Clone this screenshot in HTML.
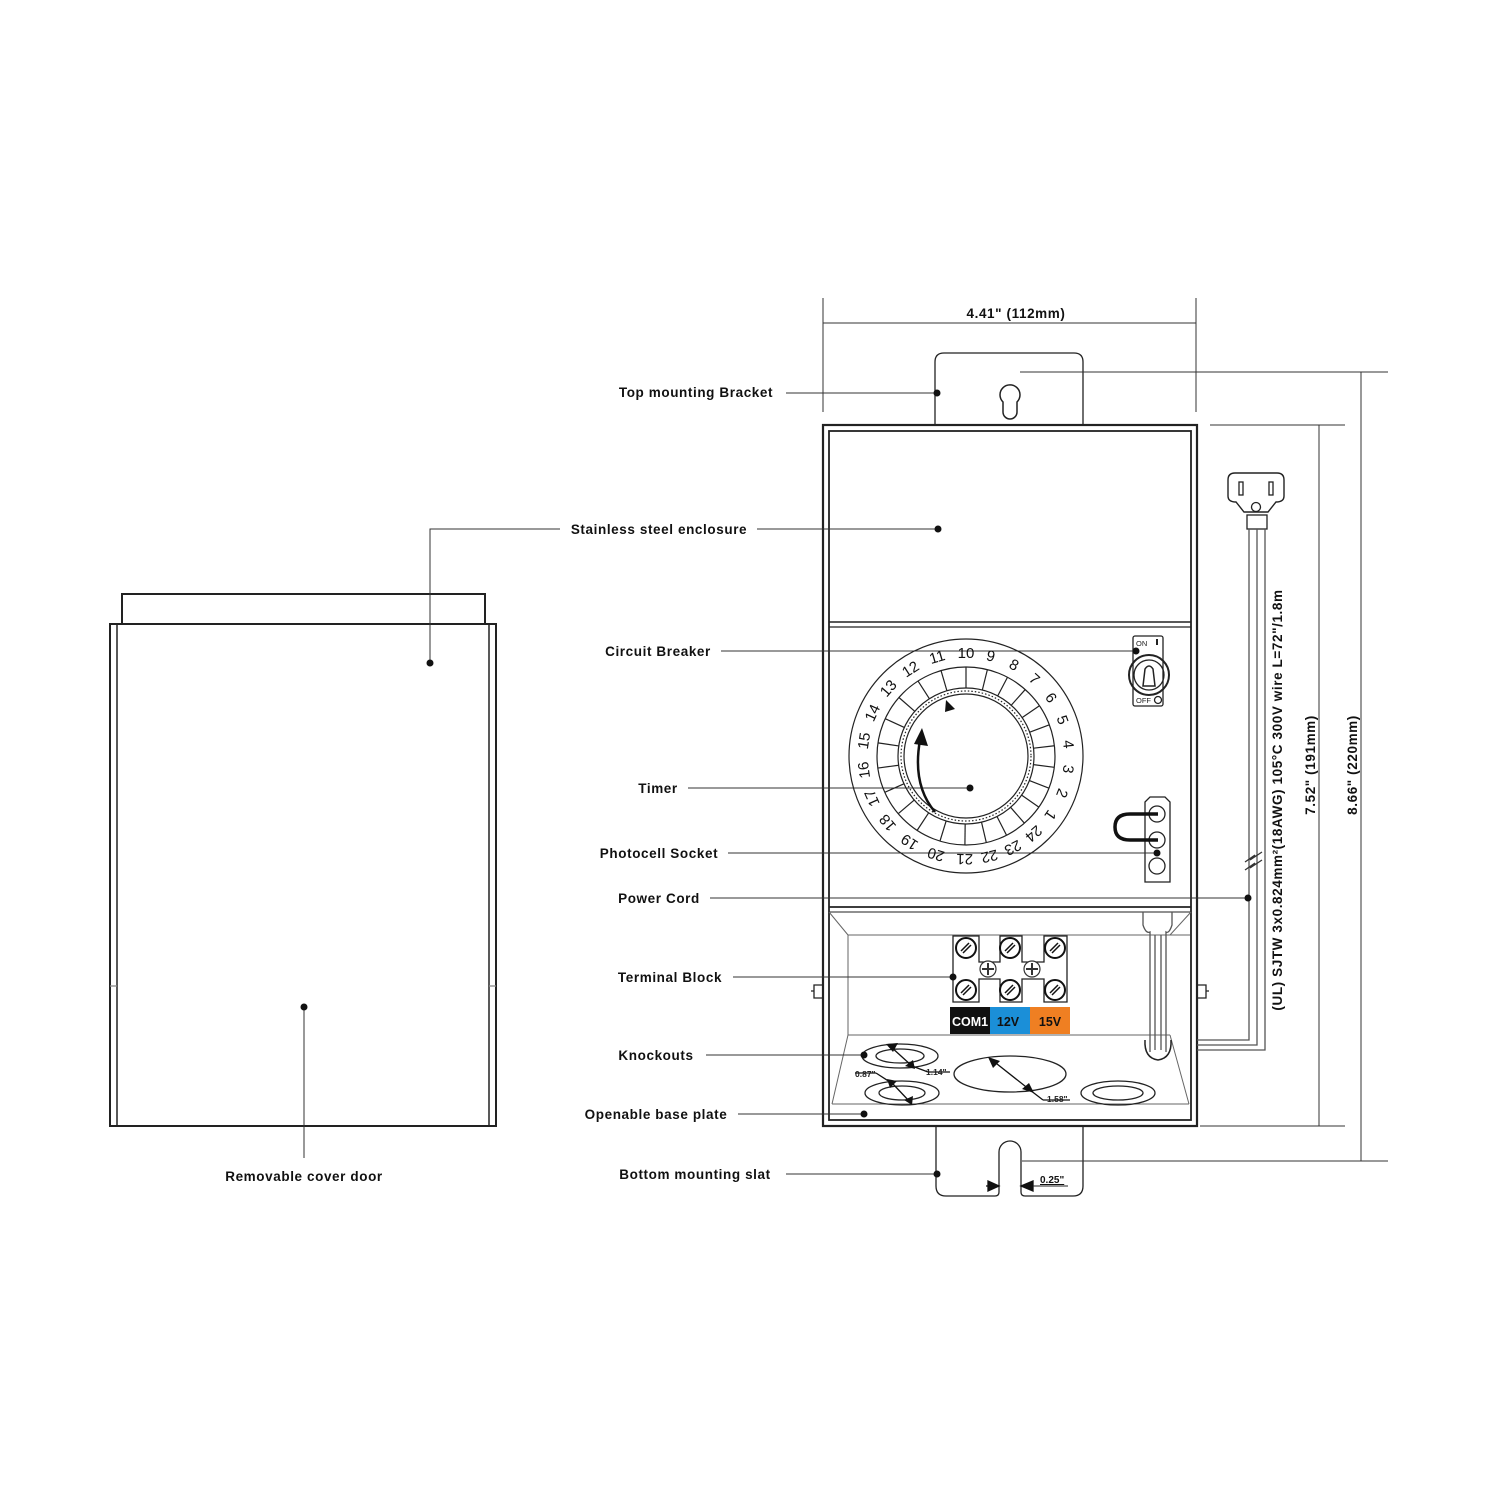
<!DOCTYPE html>
<html><head><meta charset="utf-8"><style>
html,body{margin:0;padding:0;background:#fff}
svg{display:block}
text{font-family:"Liberation Sans",Arial,sans-serif}
.lb{font-size:13.5px;font-weight:bold;letter-spacing:0.6px;fill:#111}
</style></head><body>
<svg id="s" width="1500" height="1500" viewBox="0 0 1500 1500" xmlns="http://www.w3.org/2000/svg">
<g fill="none" stroke="#222" stroke-width="1.3">
<rect x="122" y="594" width="363" height="30" stroke-width="2"/>
<rect x="110" y="624" width="386" height="502" stroke-width="2"/>
<line x1="117" y1="624" x2="117" y2="1126" stroke-width="1.5"/>
<line x1="489" y1="624" x2="489" y2="1126" stroke-width="1.5"/>
<line x1="110" y1="986" x2="117" y2="986" stroke="#888"/><line x1="489" y1="986" x2="496" y2="986" stroke="#888"/>

<path d="M935 425 V362 Q935 353 944 353 H1074 Q1083 353 1083 362 V425" />
<path d="M1003 412 V402 A10 10 0 1 1 1017 402 V412 A7 7 0 0 1 1003 412 Z" stroke-width="1.5"/>
<path d="M936 1126 V1186 Q936 1196 946 1196 H995 Q999 1196 999 1192 V1152 A11 11 0 0 1 1021 1152 V1192 Q1021 1196 1025 1196 H1073 Q1083 1196 1083 1186 V1126"/>

<rect x="823" y="425" width="374" height="701" stroke-width="2.2"/>
<rect x="829" y="431" width="362" height="689" stroke-width="1.8"/>
<line x1="829" y1="622" x2="1191" y2="622" stroke-width="1.6"/>
<line x1="829" y1="627" x2="1191" y2="627" stroke-width="1.2"/>
<line x1="829" y1="907" x2="1191" y2="907" stroke-width="1.8"/>
<line x1="829" y1="912" x2="1191" y2="912" stroke-width="1"/>

<g stroke="#666" stroke-width="1">
<path d="M848 935 H1190 M848 935 V1035 M829 912 L848 935 M1191 912 L1170 935 M848 1035 H1170 M848 1035 L832 1104 M1170 1035 L1189 1104 M832 1104 H1189"/>
</g>
<path d="M823 985 H814 V998 H823 M814 991 H811"/>
<path d="M1197 985 H1206 V998 H1197 M1206 991 H1209"/>

<rect x="1133" y="636" width="30" height="70" rx="2"/>
<circle cx="1149" cy="675" r="20" stroke-width="2"/>
<circle cx="1149" cy="675" r="15"/>
<path d="M1143 686 L1145 669 Q1149 663 1153 669 L1155 686 Z" stroke-width="1.5"/>
<circle cx="1158" cy="700" r="3.5"/>
<line x1="1157" y1="639" x2="1157" y2="645" stroke-width="2"/>

<path d="M1145 802 L1150 797 H1165 L1170 802 V882 H1145 Z"/>
<circle cx="1157" cy="814" r="8"/><circle cx="1157" cy="840" r="8"/><circle cx="1157" cy="866" r="8"/>
<path d="M1158 814 H1130 Q1115 814 1115 827 Q1115 840 1130 840 H1158" stroke="#111" stroke-width="3.5"/>

<path d="M953 936 H979 V962 H1000 V936 H1022 V962 H1044 V936 H1067 V1002 H1044 V979 H1022 V1002 H1000 V979 H979 V1002 H953 Z"/>

<ellipse cx="900" cy="1056" rx="38" ry="12"/><ellipse cx="900" cy="1056" rx="24" ry="7"/>
<ellipse cx="902" cy="1093" rx="37" ry="12"/><ellipse cx="902" cy="1093" rx="23" ry="7"/>
<ellipse cx="1010" cy="1074" rx="56" ry="18"/>
<ellipse cx="1118" cy="1093" rx="37" ry="12"/><ellipse cx="1118" cy="1093" rx="25" ry="7"/>
<g stroke="#111">
<line x1="890" y1="1046" x2="912" y2="1066"/><line x1="912" y1="1066" x2="928" y2="1072"/><line x1="928" y1="1072" x2="950" y2="1072"/>
<line x1="893" y1="1084" x2="910" y2="1102"/><line x1="876" y1="1073" x2="893" y2="1084"/><line x1="855" y1="1073" x2="876" y2="1073"/>
<line x1="992" y1="1060" x2="1030" y2="1090"/><line x1="1030" y1="1090" x2="1043" y2="1100"/><line x1="1043" y1="1100" x2="1070" y2="1100"/>
</g>

<path d="M1143 912 V925 Q1146 934 1150 932 V1052 M1172 912 V925 Q1169 934 1166 932 V1052 M1155 935 V1050 M1161 935 V1050" stroke="#555"/>
<path d="M1145 1040 Q1144 1058 1158 1060 Q1172 1058 1171 1040" stroke-width="1.5"/>

<path d="M1228 480 Q1228 473 1235 473 H1277 Q1284 473 1284 480 V496 Q1284 502 1276 502 L1268 512 H1244 L1236 502 Q1228 502 1228 496 Z" stroke-width="1.4"/>
<rect x="1239" y="482" width="4" height="13"/><rect x="1269" y="482" width="4" height="13"/>
<circle cx="1256" cy="507" r="4.5"/>
<rect x="1247" y="515" width="20" height="14"/>
<path d="M1249 529 V1040 H1197 M1257 529 V1045 H1197 M1265 529 V1050 Q1265 1050 1260 1050 H1197" stroke="#555"/>
<path d="M1245 862 L1255 855 L1250 860 L1262 852 M1245 870 L1255 863 L1250 868 L1262 860" stroke="#333" fill="#fff"/>

<g stroke="#333" stroke-width="1">
<line x1="823" y1="298" x2="823" y2="412"/><line x1="1196" y1="298" x2="1196" y2="412"/>
<line x1="823" y1="323" x2="1196" y2="323"/>
<line x1="1020" y1="372" x2="1388" y2="372"/><line x1="1022" y1="1161" x2="1388" y2="1161"/>
<line x1="1361" y1="372" x2="1361" y2="1161"/>
<line x1="1210" y1="425" x2="1345" y2="425"/><line x1="1200" y1="1126" x2="1345" y2="1126"/>
<line x1="1319" y1="425" x2="1319" y2="1126"/>
</g>
<path d="M986 1186 L999 1186 M999 1186 L988 1181 L988 1191 Z M1021 1186 L1033 1181 L1033 1191 Z" fill="#111" stroke="#111"/>
<line x1="1033" y1="1186" x2="1068" y2="1186" stroke-width="1"/>

<g stroke="#333" stroke-width="1">
<line x1="786" y1="393" x2="937" y2="393"/>
<line x1="757" y1="529" x2="938" y2="529"/>
<line x1="721" y1="651" x2="1136" y2="651"/>
<line x1="688" y1="788" x2="970" y2="788"/>
<line x1="728" y1="853" x2="1157" y2="853"/>
<line x1="710" y1="898" x2="1248" y2="898"/>
<line x1="733" y1="977" x2="953" y2="977"/>
<line x1="706" y1="1055" x2="864" y2="1055"/>
<line x1="738" y1="1114" x2="864" y2="1114"/>
<line x1="786" y1="1174" x2="937" y2="1174"/>
<path d="M560 529 H430 V663"/>
<line x1="304" y1="1007" x2="304" y2="1158"/>
</g>
</g>
<g fill="#111">
<circle cx="937" cy="393" r="3.5"/><circle cx="938" cy="529" r="3.5"/><circle cx="1136" cy="651" r="3.5"/>
<circle cx="970" cy="788" r="3.5"/><circle cx="1157" cy="853" r="3.5"/><circle cx="1248" cy="898" r="3.5"/>
<circle cx="953" cy="977" r="3.5"/><circle cx="864" cy="1055" r="3.5"/><circle cx="864" cy="1114" r="3.5"/>
<circle cx="937" cy="1174" r="3.5"/><circle cx="430" cy="663" r="3.5"/><circle cx="304" cy="1007" r="3.5"/>
<path d="M898 1043 L893 1052 L886 1044 Z M915 1069 L905 1066 L913 1060 Z"/>
<path d="M897 1081 L890 1088 L887 1079 Z M912 1105 L904 1100 L913 1096 Z"/>
<path d="M988 1057 L1000 1061 L993 1068 Z M1034 1093 L1022 1089 L1029 1083 Z"/>
</g>
<text x="1136" y="646" font-size="7.5" fill="#222">ON</text>
<text x="1136" y="703" font-size="7.5" fill="#222">OFF</text>
<rect x="950" y="1007" width="40" height="27" fill="#111"/>
<rect x="990" y="1007" width="40" height="27" fill="#1b8fd8"/>
<rect x="1030" y="1007" width="40" height="27" fill="#ef7f22"/>
<text x="970" y="1026" text-anchor="middle" font-size="12.5" font-weight="bold" fill="#fff">COM1</text>
<text x="1008" y="1026" text-anchor="middle" font-size="12.5" font-weight="bold" fill="#111">12V</text>
<text x="1050" y="1026" text-anchor="middle" font-size="12.5" font-weight="bold" fill="#111">15V</text>

<g id="dial"></g>
<g id="screws"></g>

<text class="lb" x="696" y="397" text-anchor="middle">Top mounting Bracket</text>
<text class="lb" x="659" y="534" text-anchor="middle">Stainless steel enclosure</text>
<text class="lb" x="658" y="656" text-anchor="middle">Circuit Breaker</text>
<text class="lb" x="658" y="793" text-anchor="middle">Timer</text>
<text class="lb" x="659" y="858" text-anchor="middle">Photocell Socket</text>
<text class="lb" x="659" y="903" text-anchor="middle">Power Cord</text>
<text class="lb" x="670" y="982" text-anchor="middle">Terminal Block</text>
<text class="lb" x="656" y="1060" text-anchor="middle">Knockouts</text>
<text class="lb" x="656" y="1119" text-anchor="middle">Openable base plate</text>
<text class="lb" x="695" y="1179" text-anchor="middle">Bottom mounting slat</text>
<text class="lb" x="304" y="1181" text-anchor="middle">Removable cover door</text>
<text class="lb" x="1016" y="318" text-anchor="middle">4.41" (112mm)</text>
<text x="1040" y="1183" style="font-size:10px;font-weight:bold" fill="#111" text-decoration="underline">0.25"</text>
<text x="855" y="1077" font-size="8.5" font-weight="bold" fill="#222">0.87"</text>
<text x="926" y="1075" font-size="8.5" font-weight="bold" fill="#222">1.14"</text>
<text x="1047" y="1102" font-size="8.5" font-weight="bold" fill="#222">1.58"</text>
<text class="lb" transform="translate(1357,765) rotate(-90)" text-anchor="middle">8.66" (220mm)</text>
<text class="lb" transform="translate(1315,765) rotate(-90)" text-anchor="middle">7.52" (191mm)</text>
<text class="lb" transform="translate(1282,800) rotate(-90)" text-anchor="middle">(UL) SJTW 3x0.824mm²(18AWG) 105°C 300V wire  L=72"/1.8m</text>
</svg>
<script>
var NS="http://www.w3.org/2000/svg";
function el(p,t,a,txt){var e=document.createElementNS(NS,t);for(var k in a)e.setAttribute(k,a[k]);if(txt)e.textContent=txt;p.appendChild(e);return e;}
var d=document.getElementById("dial"),cx=966,cy=756;
var g=el(d,"g",{fill:"none",stroke:"#222","stroke-width":"1.2"});
el(g,"circle",{cx:cx,cy:cy,r:117});
el(g,"circle",{cx:cx,cy:cy,r:89});
el(g,"circle",{cx:cx,cy:cy,r:68});
el(g,"circle",{cx:cx,cy:cy,r:65,"stroke-dasharray":"1.5 2"});
el(g,"circle",{cx:cx,cy:cy,r:62});
function ang(n){var k=(10-n+24)%24; if(k<=13)return -90+k*13.9; var j=(n-10+24)%24; return -90-j*16.3;}
for(var n=1;n<=24;n++){
 var a=ang(n),r=a*Math.PI/180;
 var x=cx+103*Math.cos(r),y=cy+103*Math.sin(r);
 el(d,"text",{x:0,y:0,"text-anchor":"middle","font-size":"15",fill:"#111",transform:"translate("+x.toFixed(1)+","+y.toFixed(1)+") rotate("+(a+90).toFixed(1)+") translate(0,5)"},String(n));
 var rr=a*Math.PI/180;
 el(g,"line",{x1:cx+68*Math.cos(rr),y1:cy+68*Math.sin(rr),x2:cx+89*Math.cos(rr),y2:cy+89*Math.sin(rr)});
}
el(g,"path",{d:"M935 812 Q912 785 920 740","stroke-width":"2.5",stroke:"#111"});
el(d,"path",{d:"M914 744 L922 728 L928 746 Z",fill:"#111"});
el(d,"path",{d:"M946 700 L955 709 L945 712 Z",fill:"#111"});
var s=document.getElementById("screws");
[[966,948],[1010,948],[1055,948],[966,990],[1010,990],[1055,990]].forEach(function(p){
 el(s,"circle",{cx:p[0],cy:p[1],r:10,fill:"#fff",stroke:"#111","stroke-width":"2"});
 el(s,"path",{d:"M"+(p[0]-5)+" "+(p[1]+3)+" L"+(p[0]+3)+" "+(p[1]-5)+" M"+(p[0]-3)+" "+(p[1]+5)+" L"+(p[0]+5)+" "+(p[1]-3),stroke:"#111","stroke-width":"1.5"});
});
[[988,969],[1032,969]].forEach(function(p){
 el(s,"circle",{cx:p[0],cy:p[1],r:8,fill:"#fff",stroke:"#333","stroke-width":"1.2"});
 el(s,"path",{d:"M"+(p[0]-6)+" "+p[1]+" H"+(p[0]+6)+" M"+p[0]+" "+(p[1]-6)+" V"+(p[1]+6),stroke:"#333","stroke-width":"2"});
});
</script>
</body></html>
